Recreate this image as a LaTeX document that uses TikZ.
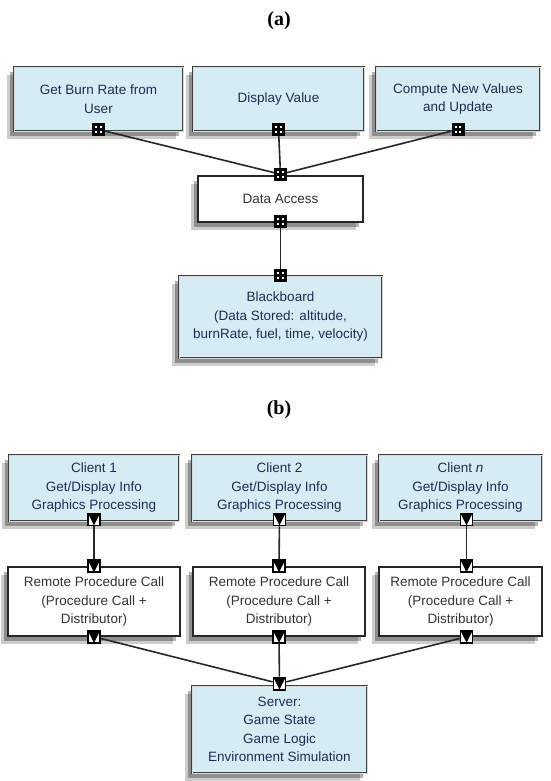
\documentclass[tikz,border=0pt]{standalone}
\usepackage{fontspec}
\setmainfont{Liberation Serif}
\setsansfont{Liberation Sans}
\usetikzlibrary{shadows,calc,positioning}
\definecolor{boxblue}{HTML}{D6ECF4}
\definecolor{inkblue}{HTML}{1E2C52}
\definecolor{inkgray}{HTML}{333333}
\newcommand{\boxfont}{\sffamily\fontsize{13.5}{18.5}\selectfont}
\tikzset{
  boxsize/.style 2 args={minimum width=#1, minimum height=#2},
  boxshadow/.style={preaction={fill=black, opacity=.2, transform canvas={xshift=-7pt,yshift=-8pt}},
    preaction={fill=black, opacity=.3, transform canvas={xshift=-4pt,yshift=-5pt}}},
  bluebox/.style={boxshadow, draw=gray!50!black, line width=0.8pt, double=gray!30, double distance=0.9pt,
    fill=boxblue, text=inkblue, font=\boxfont, align=center, inner sep=0pt},
  whitebox/.style={boxshadow, draw=black!85, line width=1.5pt, fill=white, text=inkgray,
    font=\boxfont, align=center, inner sep=0pt},
  title/.style={font=\bfseries\fontsize{20}{24}\selectfont},
  portA/.style={draw=black, fill=black, line width=1pt, minimum size=12pt, inner sep=0pt,
    path picture={
      \foreach \dx in {-1,1}
        \foreach \dy in {-1,1}
          \fill[white] ($(path picture bounding box.center)+(\dx*2.4-1,\dy*2.4-1)$) rectangle +(2,2);
    }},
  portB/.style={draw=black, fill=white, line width=1.8pt, minimum size=12pt, inner sep=0pt,
    path picture={
      \fill[black] (path picture bounding box.north west) -- (path picture bounding box.north east)
        -- (path picture bounding box.south) -- cycle;
    }},
  link/.style={draw=black!85, line width=1.6pt}
}
\begin{document}
\begin{tikzpicture}[x=1pt,y=-1pt]
\useasboundingbox (0,0) rectangle (550,781);

% (a) blackboard
\node[title] (titleA) at (279,21) {(a)};
\node[bluebox, boxsize={169}{64}] (burn) at (98.5,99) {Get Burn Rate from\\User};
\node[bluebox, boxsize={171}{64}] (display) at (278.5,99) {Display Value};
\node[bluebox, boxsize={164}{64}] (compute) at (458,99) {Compute New Values\\and Update};
\node[whitebox, boxsize={165}{46}] (access) at (280.5,199) {Data Access};
\node[bluebox, boxsize={203}{82}] (board) at (280.5,317) {Blackboard\\(Data Stored: altitude,\\burnRate, fuel, time, velocity)};

\node[portA] (pBurn) at ([yshift=2pt]burn.south) {};
\node[portA] (pDisplay) at ([yshift=2pt]display.south) {};
\node[portA] (pCompute) at ([yshift=2pt]compute.south) {};
\node[portA] (pAccessIn) at ([yshift=1pt]access.north) {};
\node[portA] (pAccessOut) at ([yshift=1pt]access.south) {};
\node[portA] (pBoard) at (board.north) {};

\draw[link] (pBurn) -- (pAccessIn);
\draw[link] (pDisplay) -- (pAccessIn);
\draw[link] (pCompute) -- (pAccessIn);
\draw[link] (pAccessOut) -- (pBoard);

% (b) client/server
\node[title] (titleB) at (279,410) {(b)};
\node[bluebox, boxsize={170}{66}] (client1) at (94,488) {Client 1\\Get/Display Info\\Graphics Processing};
\node[bluebox, boxsize={175}{66}] (client2) at (279.5,488) {Client 2\\Get/Display Info\\Graphics Processing};
\node[bluebox, boxsize={163}{66}] (clientN) at (460.5,488) {Client \textit{n}\\Get/Display Info\\Graphics Processing};
\node[whitebox, boxsize={172}{69}] (rpc1) at (94,601.5) {Remote Procedure Call\\(Procedure Call +\\Distributor)};
\node[whitebox, boxsize={172}{69}] (rpc2) at (279,601.5) {Remote Procedure Call\\(Procedure Call +\\Distributor)};
\node[whitebox, boxsize={163}{69}] (rpcN) at (460.5,601.5) {Remote Procedure Call\\(Procedure Call +\\Distributor)};
\node[bluebox, boxsize={175}{87}] (server) at (279.5,729.5) {Server:\\Game State\\Game Logic\\Environment Simulation};

\node[portB] (pClient1) at ([yshift=2pt]client1.south) {};
\node[portB] (pClient2) at ([yshift=2pt]client2.south) {};
\node[portB] (pClientN) at ([xshift=6pt,yshift=2pt]clientN.south) {};
\node[portB] (pRpc1In) at (rpc1.north) {};
\node[portB] (pRpc2In) at (rpc2.north) {};
\node[portB] (pRpcNIn) at ([xshift=6pt]rpcN.north) {};
\node[portB] (pRpc1Out) at (rpc1.south) {};
\node[portB] (pRpc2Out) at (rpc2.south) {};
\node[portB] (pRpcNOut) at ([xshift=6pt]rpcN.south) {};
\node[portB] (pServer) at ([yshift=2pt]server.north) {};

\draw[link] (pClient1) -- (pRpc1In);
\draw[link] (pClient2) -- (pRpc2In);
\draw[link] (pClientN) -- (pRpcNIn);
\draw[link] (pRpc1Out) -- (pServer);
\draw[link] (pRpc2Out) -- (pServer);
\draw[link] (pRpcNOut) -- (pServer);
\end{tikzpicture}
\end{document}
